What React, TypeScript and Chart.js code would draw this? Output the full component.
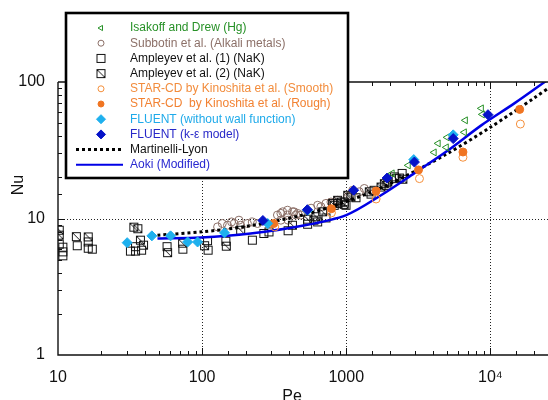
import React, { useEffect, useRef } from 'react';
import { Chart, registerables } from 'chart.js';
import { drawPoint } from 'chart.js/helpers';

Chart.register(...registerables);

// ---------- axis text ----------
const xTitle = 'Pe';
const yTitle = 'Nu';
const xLabelValues = [10, 100, 1000, 10000];
const xTickLabels = ['10', '100', '1000', '10⁴'];
const yLabelValues = [1, 10, 100];
const yTickLabels = ['1', '10', '100'];
const xGridValues = [100, 1000, 10000];
const yGridValues = [10];
const xMin = 10;
const xMax = 25500;
const yMin = 1;
const yMax = 100;

// ---------- series ----------
const isakoffPe = [2080, 2690, 4070, 4340, 4940, 5010, 6590, 6700, 8650, 8790];
const isakoffNu = [21.4, 24.5, 30.5, 35.5, 33.2, 39.3, 42.8, 52.4, 64.1, 57.9];

const subbotinPe = [128, 138, 150, 160, 167, 180, 185, 206, 223, 242, 333, 352, 362, 352, 391, 391, 395, 424, 434, 447, 460, 484, 570, 633, 667, 723, 783, 821, 871, 1023, 1060, 1108, 1231, 1334];
const subbotinNu = [8.68, 9.19, 8.93, 9.44, 9.19, 9.72, 8.93, 9.19, 9.44, 9.19, 10.6, 10.9, 11.2, 9.72, 10.6, 11.5, 9.72, 11.2, 11.2, 10.6, 10.9, 10.6, 11.9, 12.5, 12.2, 12.9, 13.2, 12.9, 13.6, 14.4, 14.8, 16.1, 15.7, 16.6];

const ampleyev1Pe = [10.2, 10.8, 10.8, 10.8, 13.6, 16.2, 16.2, 17.3, 31.8, 34.5, 34.5, 38.0, 57.1, 73.5, 109, 110, 146, 223, 268, 291, 395, 539, 633, 723, 825, 871, 968, 995, 1168, 1485, 1558, 1889, 2157, 2337, 2440];
const ampleyev1Nu = [6.49, 6.17, 5.70, 5.33, 6.32, 6.74, 6.06, 5.96, 5.77, 6.22, 5.77, 5.86, 6.22, 5.96, 6.88, 5.86, 6.82, 6.94, 7.77, 7.98, 8.14, 9.08, 9.44, 10.1, 12.5, 12.9, 13.2, 12.5, 14.2, 15.1, 16.1, 17.5, 20.2, 19.8, 21.4];

const ampleyev2Pe = [10.2, 10.2, 13.4, 16.2, 33.6, 35.8, 37.3, 39.2, 57.6, 73.2, 104, 147, 185, 423, 539, 596, 616, 686, 804, 871, 919, 968, 1023, 1078, 1445, 1743, 1838, 1941, 2216, 2468];
const ampleyev2Nu = [8.21, 7.55, 7.36, 7.33, 8.64, 8.42, 6.94, 6.38, 5.62, 6.60, 6.32, 6.27, 8.21, 8.93, 9.89, 9.72, 10.3, 11.2, 12.9, 13.6, 13.2, 12.7, 14.8, 14.4, 15.7, 17.0, 18.0, 18.5, 19.6, 19.4];

const starSmoothPe = [319, 789, 1610, 3220, 6450, 16140];
const starSmoothNu = [8.68, 11.0, 13.9, 19.6, 28.1, 49.2];

const starRoughPe = [314, 789, 1610, 3170, 6450, 15960];
const starRoughNu = [9.19, 11.8, 15.9, 22.7, 30.7, 63.0];

const fluentNoWfPe = [30.2, 44.8, 60.4, 79.3, 93.0, 143, 285, 539, 2940, 5520];
const fluentNoWfNu = [6.65, 7.46, 7.46, 6.73, 6.73, 7.85, 9.19, 11.5, 27.0, 41.0];

const fluentKePe = [264, 537, 1126, 1920, 2970, 5520, 9620];
const fluentKeNu = [9.67, 11.6, 16.1, 19.8, 25.9, 38.5, 57.6];

const martinelliPe = [49, 100, 200, 500, 1000, 2000, 5000, 10000, 20000, 30000];
const martinelliNu = [7.55, 7.99, 8.73, 10.6, 13.3, 17.9, 29.8, 46.6, 76.0, 102];

const aokiPe = [49, 98, 217, 484, 1000, 1742, 2954, 5090, 8640, 14650, 26000];
const aokiNu = [7.14, 7.26, 7.77, 8.8, 10.6, 14.8, 21.4, 31.6, 48.1, 69.7, 107];

const seriesLabels = [
  'Isakoff and Drew (Hg)',
  'Subbotin et al. (Alkali metals)',
  'Ampleyev et al. (1) (NaK)',
  'Ampleyev et al. (2) (NaK)',
  'STAR-CD by Kinoshita et al. (Smooth)',
  'STAR-CD  by Kinoshita et al. (Rough)',
  'FLUENT (without wall function)',
  'FLUENT (k-ε model)',
  'Martinelli-Lyon',
  'Aoki (Modified)',
];
const legendTextColors = ['#279127', '#8c7068', '#111111', '#111111', '#f28c3c', '#f28232', '#1eaaea', '#2828c8', '#111111', '#2828d0'];

const FONT = '"Liberation Sans", Arial, sans-serif';

const pts = (xs: number[], ys: number[]) => xs.map((x, i) => ({ x, y: ys[i] }));

const labelFor = (value: number, values: number[], labels: string[]) => {
  const i = values.findIndex((v) => Math.abs(v - value) < v * 1e-6);
  return i >= 0 ? labels[i] : '';
};

const isDecade = (v: number) => Math.abs(Math.log10(v) - Math.round(Math.log10(v))) < 1e-6;

export default function App() {
  const ref = useRef<HTMLCanvasElement>(null);

  useEffect(() => {
    const canvas = ref.current;
    if (!canvas) return;

    const mkSquare = (slash: boolean) => {
      const c = document.createElement('canvas');
      c.width = 11;
      c.height = 11;
      const g = c.getContext('2d')!;
      g.strokeStyle = '#111';
      g.lineWidth = 1;
      g.strokeRect(1.5, 1.5, 8, 8);
      if (slash) {
        g.beginPath();
        g.moveTo(2, 2);
        g.lineTo(9, 9);
        g.stroke();
      }
      return c;
    };
    const sqOpen = mkSquare(false);
    const sqSlash = mkSquare(true);

    const scatter = (label: string, data: any[], style: any, color: string, fill: string, radius: number, order: number, rotation = 0) => ({
      label,
      data,
      showLine: false,
      pointStyle: style,
      pointRadius: radius,
      pointHoverRadius: radius,
      pointRotation: rotation,
      pointBackgroundColor: fill,
      pointBorderColor: color,
      pointBorderWidth: 1,
      backgroundColor: fill,
      borderColor: color,
      order,
    });

    const datasets: any[] = [
      scatter(seriesLabels[0], pts(isakoffPe, isakoffNu), 'triangle', '#279127', 'rgba(0,0,0,0)', 4, 4, -90),
      scatter(seriesLabels[1], pts(subbotinPe, subbotinNu), 'circle', '#8c7068', 'rgba(0,0,0,0)', 4, 9),
      scatter(seriesLabels[2], pts(ampleyev1Pe, ampleyev1Nu), sqOpen, '#111', 'rgba(0,0,0,0)', 5, 8),
      scatter(seriesLabels[3], pts(ampleyev2Pe, ampleyev2Nu), sqSlash, '#111', 'rgba(0,0,0,0)', 5, 7),
      scatter(seriesLabels[4], pts(starSmoothPe, starSmoothNu), 'circle', '#f5903c', 'rgba(0,0,0,0)', 4, 3),
      scatter(seriesLabels[5], pts(starRoughPe, starRoughNu), 'circle', '#f07522', '#f07522', 4, 2),
      scatter(seriesLabels[6], pts(fluentNoWfPe, fluentNoWfNu), 'rectRot', '#1eb0ee', '#1eb0ee', 5, 1),
      scatter(seriesLabels[7], pts(fluentKePe, fluentKeNu), 'rectRot', '#0512c8', '#0512c8', 5, 0),
      {
        label: seriesLabels[8],
        data: pts(martinelliPe, martinelliNu),
        showLine: true,
        pointRadius: 0,
        borderColor: '#000',
        borderWidth: 3,
        borderDash: [3, 3],
        tension: 0.3,
        fill: false,
        order: 6,
      },
      {
        label: seriesLabels[9],
        data: pts(aokiPe, aokiNu),
        showLine: true,
        pointRadius: 0,
        borderColor: '#0000e6',
        borderWidth: 2.5,
        tension: 0.3,
        fill: false,
        order: 5,
      },
    ];

    const framePlugin = {
      id: 'frame',
      beforeDatasetsDraw(chart: any) {
        const { ctx, chartArea: a, scales } = chart;
        const xs = scales.x;
        const ys = scales.y;
        ctx.save();
        ctx.beginPath();
        ctx.rect(a.left, a.top, a.right - a.left, a.bottom - a.top);
        ctx.clip();
        ctx.strokeStyle = '#222';
        ctx.lineWidth = 1;
        ctx.setLineDash([1, 2]);
        xGridValues.forEach((v) => {
          const p = Math.round(xs.getPixelForValue(v)) + 0.5;
          ctx.beginPath();
          ctx.moveTo(p, a.top);
          ctx.lineTo(p, a.bottom);
          ctx.stroke();
        });
        yGridValues.forEach((v) => {
          const p = Math.round(ys.getPixelForValue(v)) + 0.5;
          ctx.beginPath();
          ctx.moveTo(a.left, p);
          ctx.lineTo(a.right, p);
          ctx.stroke();
        });
        ctx.restore();
      },
      afterDatasetsDraw(chart: any) {
        const { ctx, chartArea: a, scales } = chart;
        const xs = scales.x;
        const ys = scales.y;
        ctx.save();
        ctx.setLineDash([]);
        ctx.strokeStyle = '#111';
        ctx.lineWidth = 1;
        // inward ticks
        xs.ticks.forEach((t: any) => {
          const v = t.value;
          if (v <= xs.min || v >= xs.max) return;
          const len = isDecade(v) ? 7 : 4;
          const p = Math.round(xs.getPixelForValue(v)) + 0.5;
          ctx.beginPath();
          ctx.moveTo(p, a.bottom);
          ctx.lineTo(p, a.bottom - len);
          ctx.moveTo(p, a.top);
          ctx.lineTo(p, a.top + len);
          ctx.stroke();
        });
        ys.ticks.forEach((t: any) => {
          const v = t.value;
          if (v <= ys.min || v >= ys.max) return;
          const len = isDecade(v) ? 7 : 4;
          const p = Math.round(ys.getPixelForValue(v)) + 0.5;
          ctx.beginPath();
          ctx.moveTo(a.left, p);
          ctx.lineTo(a.left + len, p);
          ctx.stroke();
        });
        // frame
        ctx.lineWidth = 1.4;
        ctx.beginPath();
        ctx.moveTo(a.left, a.top);
        ctx.lineTo(a.left, a.bottom);
        ctx.lineTo(a.right, a.bottom);
        ctx.moveTo(a.left, a.top);
        ctx.lineTo(a.right, a.top);
        ctx.stroke();

        // axis titles
        ctx.fillStyle = '#111';
        ctx.font = `16px ${FONT}`;
        ctx.textAlign = 'center';
        ctx.textBaseline = 'top';
        ctx.fillText(xTitle, 292, 389);
        ctx.save();
        ctx.translate(19, 185);
        ctx.rotate(-Math.PI / 2);
        ctx.textBaseline = 'middle';
        ctx.fillText(yTitle, 0, 0);
        ctx.restore();

        // legend
        const bx = 66, by = 13, bw = 282, bh = 165;
        ctx.fillStyle = '#fff';
        ctx.fillRect(bx, by, bw, bh);
        ctx.strokeStyle = '#000';
        ctx.lineWidth = 2.6;
        ctx.strokeRect(bx, by, bw, bh);
        ctx.font = `12px ${FONT}`;
        ctx.textAlign = 'left';
        ctx.textBaseline = 'middle';
        chart.data.datasets.forEach((ds: any, i: number) => {
          const yy = 28 + i * 15.2;
          if (ds.showLine) {
            ctx.save();
            ctx.strokeStyle = ds.borderColor;
            ctx.lineWidth = ds.borderDash ? 3 : 2;
            ctx.setLineDash(ds.borderDash || []);
            ctx.beginPath();
            ctx.moveTo(76, yy);
            ctx.lineTo(123, yy);
            ctx.stroke();
            ctx.restore();
          } else {
            ctx.save();
            ctx.fillStyle = ds.pointBackgroundColor;
            ctx.strokeStyle = ds.pointBorderColor;
            ctx.lineWidth = 1;
            const r = ds.pointStyle === 'rectRot' ? 4.5 : 3;
            drawPoint(ctx, { pointStyle: ds.pointStyle, radius: r, rotation: ds.pointRotation || 0, borderWidth: 1 } as any, 101, yy);
            ctx.restore();
          }
          ctx.fillStyle = legendTextColors[i];
          ctx.fillText(ds.label, 130, yy);
        });
        ctx.restore();
      },
    };

    const tickFont = { size: 16, family: FONT };
    const chart = new Chart(canvas, {
      type: 'scatter',
      data: { datasets },
      plugins: [framePlugin],
      options: {
        animation: false,
        responsive: false,
        devicePixelRatio: 1,
        layout: { padding: { top: 82, left: 0, right: 0, bottom: 0 } },
        plugins: { legend: { display: false }, tooltip: { enabled: false } },
        scales: {
          x: {
            type: 'logarithmic',
            min: xMin,
            max: xMax,
            grid: { display: false, drawTicks: false },
            border: { display: false },
            ticks: {
              autoSkip: false,
              maxRotation: 0,
              padding: 13,
              color: '#111',
              font: tickFont,
              callback: (v: any) => labelFor(Number(v), xLabelValues, xTickLabels),
            },
            afterFit: (s: any) => {
              s.height = 45;
              s.paddingLeft = 0;
              s.paddingRight = 0;
            },
          },
          y: {
            type: 'logarithmic',
            min: yMin,
            max: yMax,
            grid: { display: false, drawTicks: false },
            border: { display: false },
            ticks: {
              autoSkip: false,
              padding: 13,
              color: '#111',
              font: tickFont,
              callback: (v: any) => labelFor(Number(v), yLabelValues, yTickLabels),
            },
            afterFit: (s: any) => {
              s.width = 58;
              s.paddingTop = 0;
              s.paddingBottom = 0;
            },
          },
        },
      } as any,
    });

    return () => chart.destroy();
  }, []);

  return (
    <div style={{ position: 'fixed', left: 0, top: 0, width: 548, height: 400, background: '#fff', overflow: 'hidden' }}>
      <canvas ref={ref} width={555} height={400} style={{ display: 'block' }} />
    </div>
  );
}
